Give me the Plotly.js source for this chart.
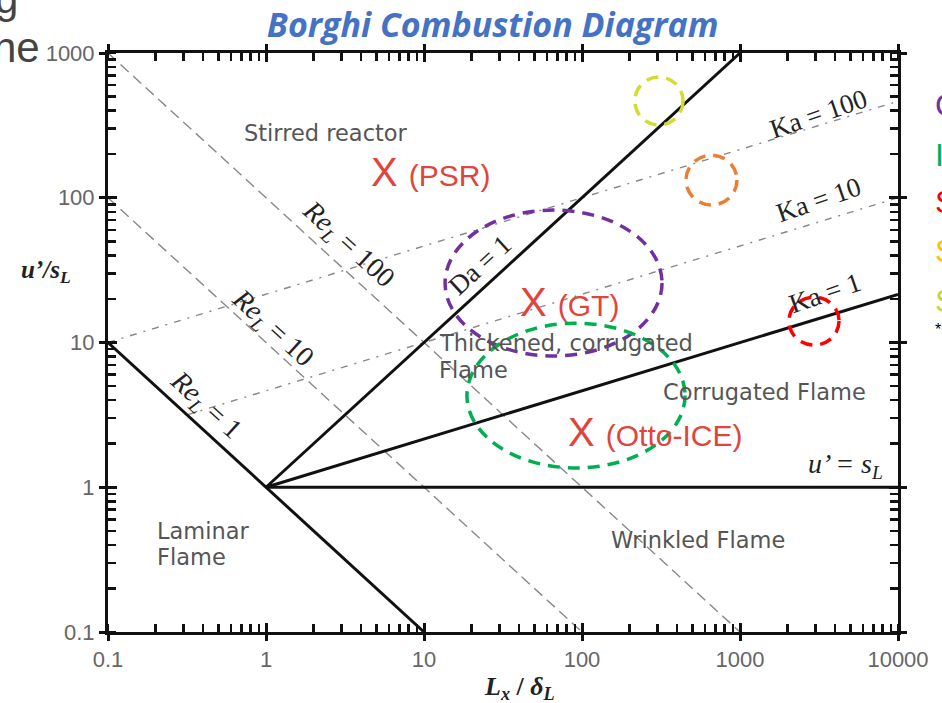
<!DOCTYPE html>
<html>
<head>
<meta charset="utf-8">
<script src="https://cdn.plot.ly/plotly-3.0.1.min.js"></script>
<style>html,body{margin:0;padding:0;background:#fff;}#chart{width:942px;height:703px;}</style>
</head>
<body>
<div id="chart"></div>
<script>
// ---- data (log-log Borghi diagram boundaries) ----
const re1_x = [0.1, 10],      re1_y = [10, 0.1];
const re10_x = [0.1, 100],    re10_y = [100, 0.1];
const re100_x = [0.1, 1000],  re100_y = [1000, 0.1];
const da1_x = [1, 1000],      da1_y = [1, 1000];
const ka1_x = [1, 10000],     ka1_y = [1, 21.5];
const ka10_x = [0.316, 10000], ka10_y = [3.16, 100];
const ka100_x = [0.1, 10000], ka100_y = [10, 464];
const usl_x = [1, 10000],     usl_y = [1, 1];

const tickVals = [0.1, 1, 10, 100, 1000, 10000];
const xTickText = ['0.1', '1', '10', '100', '1000', '10000'];
const yTickVals = [0.1, 1, 10, 100, 1000];
const yTickText = ['0.1', '1', '10', '100', '1000'];

// highlighted regimes (dashed ellipses): [x0, x1, y0, y1]
const psrCircle  = [216, 436, 318, 683];
const sparkCircle = [455, 957, 89, 197];
const redCircle  = [2042, 4236, 9.6, 20.6];
const gtEllipse  = [13.6, 321, 8.07, 82.2];
const iceEllipse = [18.7, 449, 1.36, 13.6];

const solid = {color: '#111', width: 3};
const dashed = {color: '#888', width: 1.4, dash: '11px,6px'};
const dashdot = {color: '#888', width: 1.4, dash: '7px,7px,2px,7px'};

function line(x, y, style) {
  return {x: x, y: y, type: 'scatter', mode: 'lines', line: style,
          hoverinfo: 'skip', showlegend: false, xaxis: 'x', yaxis: 'y'};
}

const traces = [
  line(re100_x, re100_y, dashed),
  line(re10_x, re10_y, dashed),
  line(ka100_x, ka100_y, dashdot),
  line(ka10_x, ka10_y, dashdot),
  line(re1_x, re1_y, solid),
  line(da1_x, da1_y, solid),
  line(ka1_x, ka1_y, solid),
  line(usl_x, usl_y, solid)
];

function ell(b, color) {
  return {type: 'circle', xref: 'x', yref: 'y', x0: b[0], x1: b[1], y0: b[2], y1: b[3],
          line: {color: color, width: 3.5, dash: '12px,8px'}, fillcolor: 'rgba(0,0,0,0)'};
}

const gray = '#555';
const sans = 'DejaVu Sans';
const serif = 'Liberation Serif';
const red = '#E0453C';

function txt(x, y, text, opts) {
  return Object.assign({x: x, y: y, xref: 'x', yref: 'y', text: text, showarrow: false,
    xanchor: 'center', yanchor: 'middle',
    font: {family: sans, size: 22.5, color: gray}}, opts || {});
}
function serifTxt(x, y, text, angle, size) {
  return {x: x, y: y, xref: 'x', yref: 'y', text: text, showarrow: false, textangle: angle,
    xanchor: 'center', yanchor: 'middle',
    font: {family: serif, size: size || 27, color: '#222'}};
}
function redTxt(x, y, label) {
  return {x: x, y: y, xref: 'x', yref: 'y', showarrow: false, xanchor: 'center', yanchor: 'middle',
    text: 'X <span style="font-size:30px">' + label + '</span>',
    font: {family: 'Liberation Sans', size: 40, color: red}};
}
function paperTxt(x, y, t, color, size, xanchor) {
  return {x: x, y: y, xref: 'paper', yref: 'paper', xanchor: xanchor || 'left', yanchor: 'middle',
    text: t, showarrow: false, font: {family: 'Liberation Sans', size: size || 32, color: color}};
}

const annotations = [
  txt(0.380, 2.447, 'Stirred reactor'),
  redTxt(1.038, 2.178, '(PSR)'),
  redTxt(1.924, 1.280, '(GT)'),
  txt(1.082, 0.9965, 'Thickened, corrugated', {xanchor: 'left'}),
  txt(1.082, 0.810, 'Flame', {xanchor: 'left'}),
  txt(3.152, 0.658, 'Corrugated Flame'),
  redTxt(2.462, 0.382, '(Otto-ICE)'),
  txt(-0.703, -0.302, 'Laminar', {xanchor: 'left'}),
  txt(-0.703, -0.482, 'Flame', {xanchor: 'left'}),
  txt(2.734, -0.364, 'Wrinkled Flame'),
  serifTxt(3.665, 0.147, '<i>u’ = s<sub>L</sub></i>', 0, 28),
  serifTxt(3.494, 2.579, 'Ka = 100', -19),
  serifTxt(3.494, 1.984, 'Ka = 10', -19),
  serifTxt(3.538, 1.342, 'Ka = 1', -19),
  serifTxt(0.513, 1.674, '<i>Re</i><sub><i>L</i></sub> = 100', 42.5, 28),
  serifTxt(0.038, 1.100, '<i>Re</i><sub><i>L</i></sub> = 10', 42.5, 28),
  serifTxt(-0.386, 0.568, '<i>Re</i><sub><i>L</i></sub> = 1', 42.5, 28),
  serifTxt(1.354, 1.535, 'Da = 1', -42.5, 27),
  // axis titles
  {x: 0.5215, y: -0.097, xref: 'paper', yref: 'paper', showarrow: false, xanchor: 'center', yanchor: 'middle',
   text: '<b><i>L<sub>x</sub></i> / <i>δ<sub>L</sub></i></b>',
   font: {family: serif, size: 26, color: '#222'}},
  {x: -0.078, y: 0.6218, xref: 'paper', yref: 'paper', showarrow: false, xanchor: 'center', yanchor: 'middle',
   text: '<b><i>u’/s<sub>L</sub></i></b>',
   font: {family: serif, size: 25, color: '#222'}},
  // slide remnants (cut off at the edges)
  paperTxt(-0.0835, 1.010, 'ne', '#444', 42, 'right'),
  paperTxt(-0.1115, 1.094, 'g', '#444', 42, 'right'),
  paperTxt(1.0443, 0.910, 'C', '#7030A0'),
  paperTxt(1.0443, 0.8238, 'I', '#00B050'),
  paperTxt(1.0443, 0.7427, 'S', '#FF0000'),
  paperTxt(1.0443, 0.658, 'S', '#FFC000'),
  paperTxt(1.0443, 0.5717, 'S', '#C9D437'),
  paperTxt(1.0443, 0.5216, '*', '#000', 16)
];

const baseAxis = {
  type: 'log', showgrid: false, zeroline: false, showline: true, linewidth: 3, linecolor: '#111',
  mirror: 'allticks', ticks: 'outside', ticklen: 6, tickwidth: 3, tickcolor: '#111',
  tickmode: 'array', tickfont: {family: 'Liberation Sans', size: 22, color: '#666'},
  minor: {ticks: 'inside', ticklen: 8, tickwidth: 2.5, tickcolor: '#111', dtick: 'D1', showgrid: false}
};
const overlayAxis = {
  type: 'log', showgrid: false, zeroline: false, showline: false, showticklabels: false,
  mirror: 'allticks', ticks: 'inside', ticklen: 9, tickwidth: 3, tickcolor: '#111', tickmode: 'array'
};

const layout = {
  width: 942, height: 703,
  margin: {l: 108, r: 44, t: 53, b: 71, pad: 0, autoexpand: false},
  paper_bgcolor: '#fff', plot_bgcolor: '#fff',
  title: {text: 'Borghi Combustion Diagram', x: 0.523, xanchor: 'center', y: 0.965, yanchor: 'middle',
          font: {family: 'Open Sans', size: 34, color: '#4472C4', weight: 'bold', style: 'italic'}},
  xaxis: Object.assign({}, baseAxis, {range: [-1, 4], tickvals: tickVals, ticktext: xTickText}),
  yaxis: Object.assign({}, baseAxis, {range: [-1, 3], tickvals: yTickVals, ticktext: yTickText}),
  xaxis2: Object.assign({}, overlayAxis, {range: [-1, 4], tickvals: tickVals, overlaying: 'x', anchor: 'y'}),
  yaxis2: Object.assign({}, overlayAxis, {range: [-1, 3], tickvals: yTickVals, overlaying: 'y', anchor: 'x'}),
  shapes: [
    ell(psrCircle, '#D4DC2E'),
    ell(sparkCircle, '#ED7D31'),
    ell(gtEllipse, '#7030A0'),
    ell(iceEllipse, '#00B050'),
    ell(redCircle, '#FF0000')
  ],
  annotations: annotations,
  showlegend: false
};

traces.push({x: [], y: [], type: 'scatter', mode: 'lines', xaxis: 'x2', yaxis: 'y2',
             hoverinfo: 'skip', showlegend: false});

Plotly.newPlot('chart', traces, layout, {displayModeBar: false, staticPlot: true});
</script>
</body>
</html>
